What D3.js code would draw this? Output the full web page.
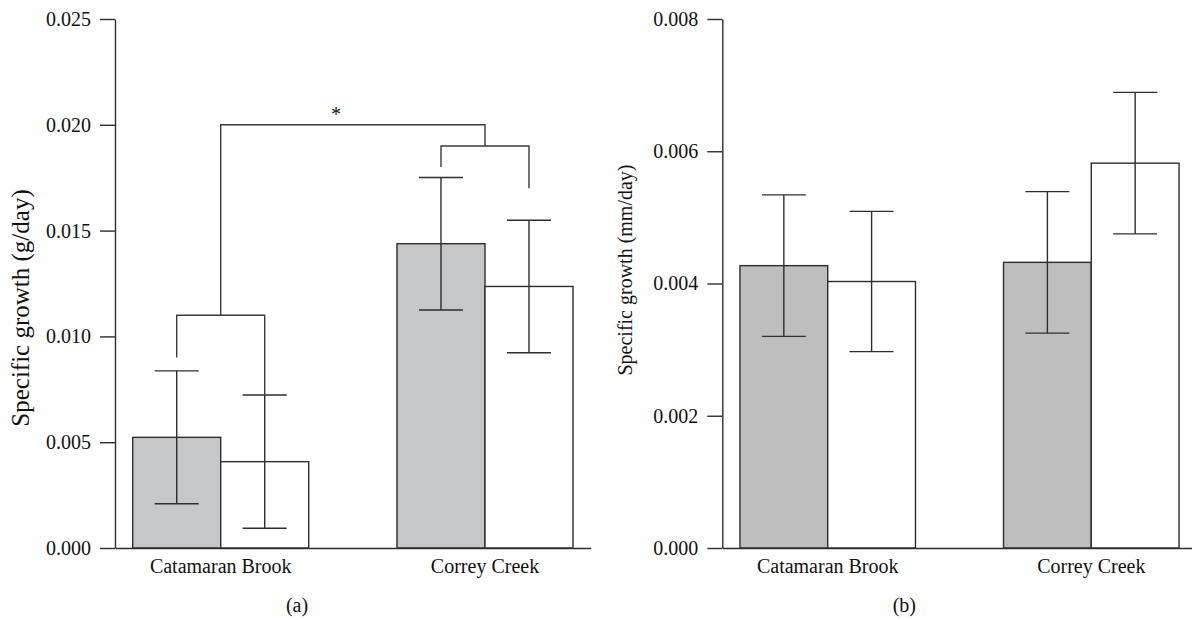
<!DOCTYPE html>
<html>
<head>
<meta charset="utf-8">
<script src="https://cdn.jsdelivr.net/npm/d3@7"></script>
<style>
  body { margin: 0; background: #fff; }
  svg { display: block; font-family: "Liberation Serif", "Times New Roman", serif; }
</style>
</head>
<body>
<script>
// ---- data ----
const sites = ["Catamaran Brook", "Correy Creek"];
const treatments = ["grey", "white"];

// (a) specific growth in mass, g/day
const massGrey = [0.00523, 0.01438];
const massWhite = [0.00408, 0.01236];
const massGreyErr = [0.00314, 0.00313];
const massWhiteErr = [0.00315, 0.00313];
const massTicks = [0, 0.005, 0.010, 0.015, 0.020, 0.025];

// (b) specific growth in length, mm/day
const lenGrey = [0.00427, 0.00432];
const lenWhite = [0.00403, 0.00582];
const lenGreyErr = [0.00107, 0.00107];
const lenWhiteErr = [0.00106, 0.00107];
const lenTicks = [0, 0.002, 0.004, 0.006, 0.008];

// significance brackets in panel (a): level and leg ends
const pairBrackets = [
    {site: "Catamaran Brook", y: 0.011, legs: [0.009, 0.00723]},
    {site: "Correy Creek", y: 0.019, legs: [0.018, 0.017]}
];
const siteBracket = {y: 0.020, legs: [0.011, 0.019], label: "*", labelAt: 0.436};

const width = 1192, height = 620;
const svg = d3.select("body").append("svg")
    .attr("width", width)
    .attr("height", height);

const ink = "#2e2e2e";

function panel({left, right, yMax, ticks, grey, white, greyErr, whiteErr,
                 fillGrey, yTitle, titleX, titleY, titleSize, tag}) {
    const g = svg.append("g");

    const x = d3.scaleBand()
        .domain(sites)
        .range([left, right])
        .paddingInner(0.334)
        .paddingOuter(0.067);

    const sub = d3.scaleBand()
        .domain(treatments)
        .range([0, x.bandwidth()]);

    const y = d3.scaleLinear()
        .domain([0, yMax])
        .range([548, 19]);

    const rows = sites.flatMap((s, i) => [
        {site: s, t: "grey", v: grey[i], e: greyErr[i]},
        {site: s, t: "white", v: white[i], e: whiteErr[i]}
    ]);

    // bars
    g.append("g")
        .selectAll("rect")
        .data(rows)
        .join("rect")
        .attr("x", d => x(d.site) + sub(d.t))
        .attr("y", d => y(d.v))
        .attr("width", sub.bandwidth())
        .attr("height", d => y(0) - y(d.v))
        .attr("fill", d => d.t === "grey" ? fillGrey : "#fff")
        .attr("stroke", ink)
        .attr("stroke-width", 1.4);

    // error bars
    const cx = d => x(d.site) + sub(d.t) + sub.bandwidth() / 2;
    const cap = sub.bandwidth() / 4;
    const err = g.append("g")
        .attr("stroke", ink)
        .attr("stroke-width", 1.4)
        .selectAll("g")
        .data(rows)
        .join("g");
    err.append("line")
        .attr("x1", cx).attr("x2", cx)
        .attr("y1", d => y(d.v - d.e))
        .attr("y2", d => y(d.v + d.e));
    err.append("line")
        .attr("x1", d => cx(d) - cap).attr("x2", d => cx(d) + cap)
        .attr("y1", d => y(d.v + d.e)).attr("y2", d => y(d.v + d.e));
    err.append("line")
        .attr("x1", d => cx(d) - cap).attr("x2", d => cx(d) + cap)
        .attr("y1", d => y(d.v - d.e)).attr("y2", d => y(d.v - d.e));

    // y axis
    g.append("g")
        .attr("transform", `translate(${left},0)`)
        .call(d3.axisLeft(y)
            .tickValues(ticks)
            .tickFormat(d3.format(".3f"))
            .tickSize(15)
            .tickSizeOuter(0)
            .tickPadding(9))
        .call(a => a.selectAll("line, path").attr("stroke", ink).attr("stroke-width", 1.4))
        .call(a => a.selectAll("text")
            .attr("fill", "#111")
            .style("font-size", "20px")
            .style("font-family", "Liberation Serif"));

    // x axis (baseline + site names)
    g.append("g")
        .attr("transform", `translate(0,${y(0)})`)
        .call(d3.axisBottom(x).tickSize(0).tickSizeOuter(0).tickPadding(11))
        .call(a => a.select(".domain").attr("stroke", ink).attr("stroke-width", 1.4))
        .call(a => a.selectAll("text")
            .attr("fill", "#111")
            .style("font-size", "20px")
            .style("font-family", "Liberation Serif"));

    // y title
    g.append("text")
        .attr("transform", `translate(${titleX},${titleY}) rotate(-90)`)
        .attr("text-anchor", "middle")
        .attr("fill", "#111")
        .style("font-size", titleSize + "px")
        .text(yTitle);

    // panel tag
    g.append("text")
        .attr("x", left + 182)
        .attr("y", 612)
        .attr("text-anchor", "middle")
        .attr("fill", "#111")
        .style("font-size", "20px")
        .text(tag);

    return {g, x, sub, y};
}

const a = panel({
    left: 115, right: 590.7, yMax: 0.025, ticks: massTicks,
    grey: massGrey, white: massWhite, greyErr: massGreyErr, whiteErr: massWhiteErr,
    fillGrey: "#c6c7c9", yTitle: "Specific growth (g/day)",
    titleX: 29, titleY: 308, titleSize: 25, tag: "(a)"
});

panel({
    left: 722.3, right: 1196.7, yMax: 0.008, ticks: lenTicks,
    grey: lenGrey, white: lenWhite, greyErr: lenGreyErr, whiteErr: lenWhiteErr,
    fillGrey: "#bebebe", yTitle: "Specific growth (mm/day)",
    titleX: 632, titleY: 270, titleSize: 20, tag: "(b)"
});

// brackets on panel (a)
const br = a.g.append("g")
    .attr("fill", "none")
    .attr("stroke", "#3a3a3a")
    .attr("stroke-width", 1.4);

const barMid = (s, t) => a.x(s) + a.sub(t) + a.sub.bandwidth() / 2;
const siteMid = s => a.x(s) + a.x.bandwidth() / 2;

br.selectAll("path.pair")
    .data(pairBrackets)
    .join("path")
    .attr("class", "pair")
    .attr("d", d => {
        const x1 = barMid(d.site, "grey"), x2 = barMid(d.site, "white");
        return `M${x1},${a.y(d.legs[0])}V${a.y(d.y)}H${x2}V${a.y(d.legs[1])}`;
    });

const sx1 = siteMid(sites[0]), sx2 = siteMid(sites[1]);
br.append("path")
    .attr("d", `M${sx1},${a.y(siteBracket.legs[0])}V${a.y(siteBracket.y)}H${sx2}V${a.y(siteBracket.legs[1])}`);

a.g.append("text")
    .attr("x", sx1 + (sx2 - sx1) * siteBracket.labelAt)
    .attr("y", a.y(siteBracket.y) - 4)
    .attr("text-anchor", "middle")
    .attr("fill", "#111")
    .style("font-size", "20px")
    .text(siteBracket.label);
</script>
</body>
</html>
